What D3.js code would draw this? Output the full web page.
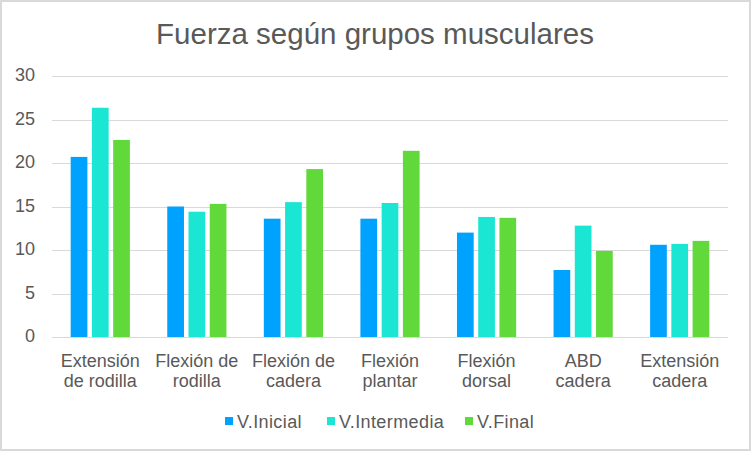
<!DOCTYPE html>
<html><head><meta charset="utf-8">
<script src="https://cdn.jsdelivr.net/npm/d3@7"></script>
<style>html,body{margin:0;padding:0;background:#fff}</style>
</head><body><svg id="c" width="752" height="452"></svg>
<script>
const categories = [["Extensión","de rodilla"],["Flexión de","rodilla"],["Flexión de","cadera"],["Flexión","plantar"],["Flexión","dorsal"],["ABD","cadera"],["Extensión","cadera"]];
const seriesNames = ["V.Inicial","V.Intermedia","V.Final"];
const vInicial = [20.7, 15.0, 13.6, 13.6, 12.0, 7.7, 10.6];
const vIntermedia = [26.35, 14.4, 15.5, 15.4, 13.8, 12.8, 10.7];
const vFinal = [22.65, 15.3, 19.3, 21.4, 13.7, 9.9, 11.05];
const yTicks = [0,5,10,15,20,25,30];
const colors = ["#00A2FF","#1BE6D3","#62D93A"];

(function(){
const svg = d3.select("#c");
const font = "Arial, 'Liberation Sans', sans-serif";
svg.append("rect").attr("x",1).attr("y",1).attr("width",749).attr("height",449)
  .attr("fill","#fff").attr("stroke","#d9d9d9").attr("stroke-width",2);

const pLeft=52, pRight=728, pTop=76, pBottom=337;
const x = d3.scaleBand().domain(d3.range(categories.length)).range([pLeft,pRight]).paddingInner(0).paddingOuter(0);
const y = d3.scaleLinear().domain([0,30]).range([pBottom,pTop]);
const data = [vInicial, vIntermedia, vFinal];

svg.append("text").attr("x",375).attr("y",44).attr("text-anchor","middle")
  .attr("font-family",font).attr("font-size",29.5).attr("fill","#595959").text("Fuerza según grupos musculares");

const g = svg.append("g");
g.selectAll("line.grid").data(yTicks).join("line").attr("class","grid")
  .attr("x1",pLeft).attr("x2",pRight).attr("y1",d=>Math.round(y(d))+0.5).attr("y2",d=>Math.round(y(d))+0.5)
  .attr("stroke","#d9d9d9").attr("stroke-width",1);
g.selectAll("text.yt").data(yTicks).join("text").attr("class","yt")
  .attr("x",35).attr("y",d=>y(d)+5).attr("text-anchor","end")
  .attr("font-family",font).attr("font-size",18).attr("fill","#595959").text(d=>d);

const bw = x.bandwidth();
const barW = bw*0.173, step = bw*0.22;
const inner = d3.scaleBand().domain(d3.range(3)).range([bw/2-step*1.5, bw/2+step*1.5]);
data.forEach((vals,si)=>{
  g.selectAll("rect.s"+si).data(vals).join("rect").attr("class","s"+si)
    .attr("x",(d,i)=>x(i)+inner(si)+(step-barW)/2).attr("width",barW)
    .attr("y",d=>y(d)).attr("height",d=>y(0)-y(d)).attr("fill",colors[si]);
});

const xl = g.selectAll("text.xl").data(categories).join("text").attr("class","xl")
  .attr("x",(d,i)=>x(i)+bw/2).attr("y",367).attr("text-anchor","middle")
  .attr("font-family",font).attr("font-size",18).attr("fill","#595959");
xl.selectAll("tspan").data(d=>d).join("tspan").attr("x",function(){return this.parentNode.getAttribute("x");})
  .attr("dy",(d,i)=>i?20:0).text(d=>d);

const legX = [225, 327, 465];
seriesNames.forEach((n,i)=>{
  svg.append("rect").attr("x",legX[i]).attr("y",417).attr("width",8).attr("height",8).attr("fill",colors[i]);
  svg.append("text").attr("x",legX[i]+12).attr("y",428).attr("font-family",font).attr("font-size",18)
    .attr("letter-spacing",0.4).attr("fill","#595959").text(n);
});
})();
</script></body></html>
